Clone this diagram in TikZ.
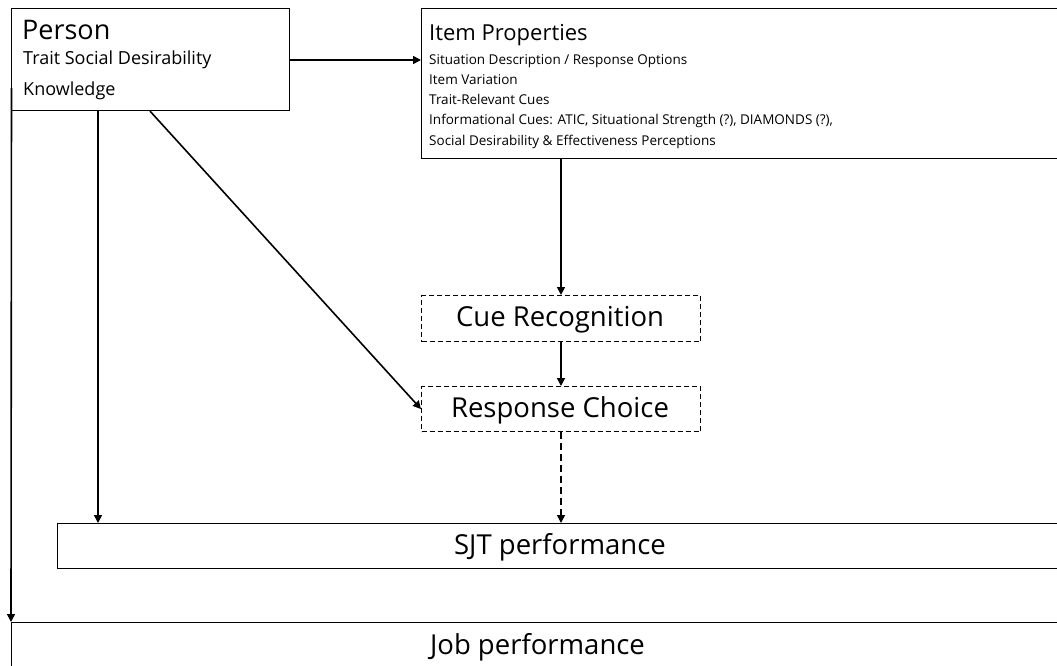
\documentclass[tikz,border=0pt]{standalone}
\usepackage{fontspec}
\setmainfont{Open Sans}
\usetikzlibrary{arrows.meta}
\begin{document}
\begin{tikzpicture}[x=1pt,y=-1pt,
  box/.style={draw, line width=1.1pt, inner sep=0pt, anchor=north west},
  dbox/.style={draw, line width=1pt, dash pattern=on 5pt off 3pt, inner sep=0pt, anchor=north west},
  arr/.style={line width=1.6pt, -{Triangle[length=8pt,width=8pt]}},
  big/.style={font=\fontsize{27.5}{30}\selectfont, anchor=base, inner sep=0pt},
  ttl/.style={anchor=base west, inner sep=0pt},
  small/.style={font=\fontsize{13.5}{15}\selectfont, anchor=base west, inner sep=0pt},
  mid/.style={font=\fontsize{18}{20}\selectfont, anchor=base west, inner sep=0pt}]
\useasboundingbox (0,0) rectangle (1057,665);
\fill[white] (0,0) rectangle (1057,665);
% boxes
\node[box, minimum width=278pt, minimum height=102pt] (person) at (11,8) {};
\node[box, minimum width=640pt, minimum height=150pt] (item) at (421,8) {};
\node[dbox, minimum width=279pt, minimum height=46pt] (cue) at (421,295) {};
\node[dbox, minimum width=279pt, minimum height=45pt] (resp) at (421,386) {};
\node[box, minimum width=1010pt, minimum height=45pt] (sjt) at (57,523) {};
\node[box, minimum width=1060pt, minimum height=50pt] (job) at (11,622) {};
% texts
\node[ttl, font=\fontsize{27}{30}\selectfont] (tperson) at (22,39.3) {Person};
\node[mid] (t1) at (23,64.3) {Trait Social Desirability};
\node[mid] (t2) at (23,95) {Knowledge};
\node[ttl, font=\fontsize{22}{26}\selectfont] (titem) at (429,40) {Item Properties};
\node[small] (i1) at (429,64) {Situation Description / Response Options};
\node[small] (i2) at (429,84.3) {Item Variation};
\node[small] (i3) at (429,104.6) {Trait-Relevant Cues};
\node[small] (i4) at (429,124.9) {Informational Cues: ATIC, Situational Strength (?), DIAMONDS (?),};
\node[small] (i5) at (429,145.2) {Social Desirability \& Effectiveness Perceptions};
\node[big] (tcue) at (560,326.7) {Cue Recognition};
\node[big] (tresp) at (560,417.3) {Response Choice};
\node[big] (tsjt) at (560,554) {SJT performance};
\node[big] (tjob) at (537.5,654) {Job performance};
% connectors
\coordinate (pl) at (11.5,88);
\draw[arr] (person.east |- 0,60) -- (item.west |- 0,60);
\draw[arr] (pl) -- (job.north west);
\draw[arr] (person.south -| 98,0) -- (sjt.north -| 98,0);
\draw[arr] (person.south -| 150,0) -- (resp.west);
\draw[arr] (item.south -| 561,0) -- (cue.north -| 561,0);
\draw[arr] (cue.south -| 561,0) -- (resp.north -| 561,0);
\draw[arr, dash pattern=on 7pt off 4pt] (resp.south -| 561,0) -- (sjt.north -| 561,0);
\end{tikzpicture}
\end{document}
